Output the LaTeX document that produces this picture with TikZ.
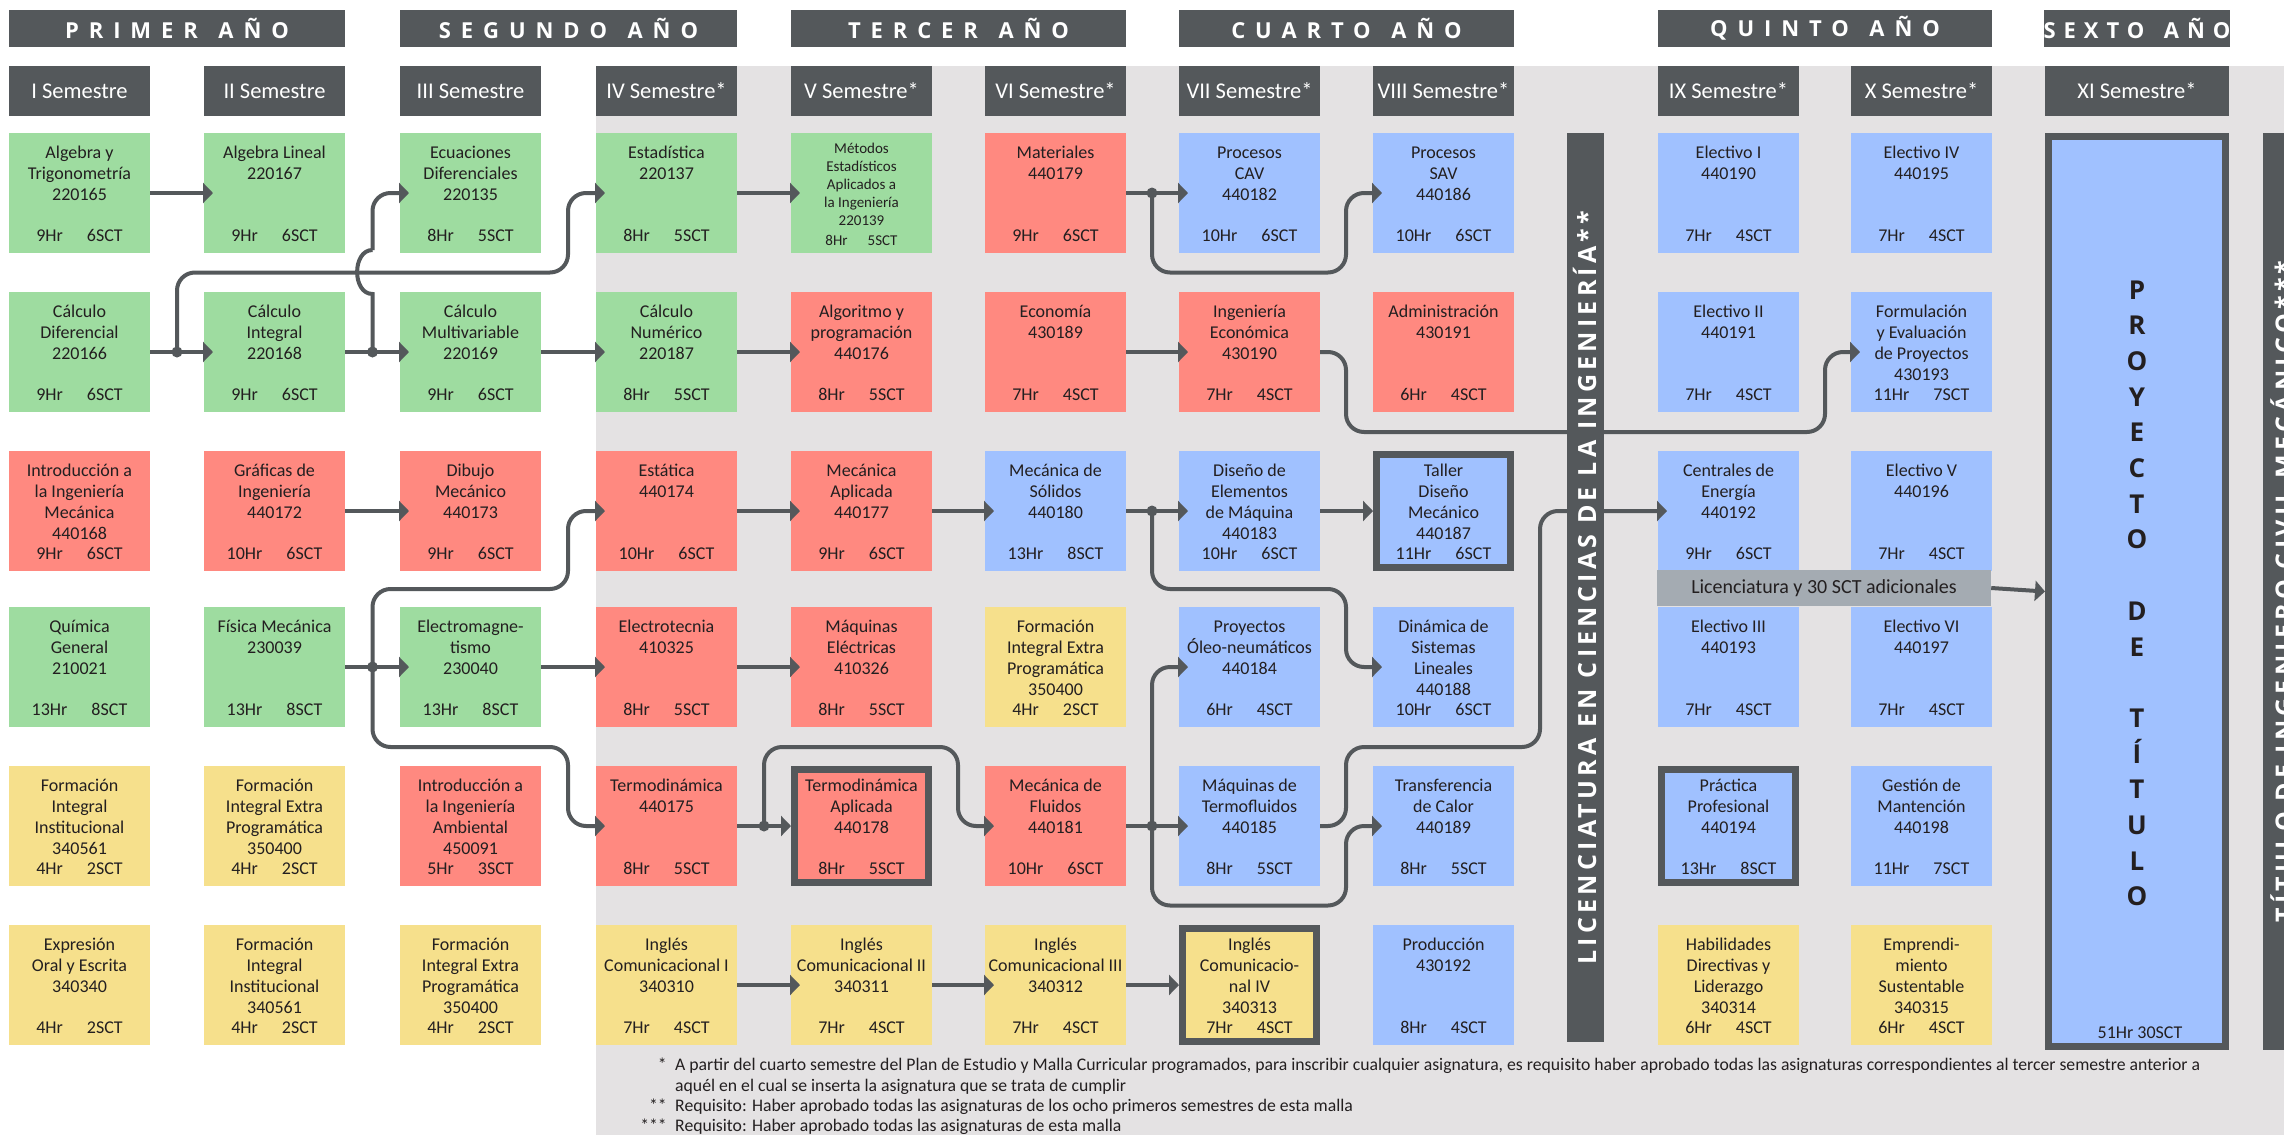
\documentclass[tikz,border=0pt]{standalone}
\usepackage{fontspec}
\setmainfont{Carlito}
\newfontfamily\yrfont{Open Sans}[LetterSpace=45]
\newfontfamily\barfont{Open Sans}[LetterSpace=17]
\newfontfamily\pfont{Open Sans}
\usetikzlibrary{arrows.meta}
\definecolor{cgreen}{RGB}{158,220,160}
\definecolor{cred}{RGB}{255,137,128}
\definecolor{cblue}{RGB}{160,193,255}
\definecolor{cyel}{RGB}{246,224,140}
\definecolor{cdark}{RGB}{84,88,91}
\definecolor{cbg}{RGB}{228,226,227}
\definecolor{clab}{RGB}{164,171,178}
\definecolor{ctext}{RGB}{35,31,32}
\def\colA{9}\def\colB{204}\def\colC{400}\def\colD{596}\def\colE{791}
\def\colF{985}\def\colG{1179}\def\colH{1373}\def\colI{1658}\def\colJ{1851}
\def\rowA{133}\def\rowB{292}\def\rowC{451}\def\rowD{607}\def\rowE{766}\def\rowF{925}
% #1 name, #2 x, #3 top, #4 colour, #5 text, #6 hr, #7 sct, #8 style
\newcommand\mycourse[8]{%
  \node[#8, fill=#4] (#1) at ({#2+70.5},{#3+60}) {};
  \node[btext] (#1t) at ({#2+70.5},{#3+11}) {\rule{0pt}{14pt}#5};
  \node[hrtext] (#1h) at ({#2+70.5},{#3+108}) {#6Hr\hspace{24pt}#7SCT};
}
\begin{document}
\begin{tikzpicture}[x=1pt,y=-1pt,
  box/.style={rectangle, minimum width=141pt, minimum height=120pt, inner sep=0pt, outer sep=0pt},
  bbox/.style={rectangle, draw=cdark, line width=7pt, minimum width=134pt, minimum height=113pt, inner sep=0pt, outer sep=3.5pt},
  btext/.style={align=center, font=\fontsize{18}{21}\selectfont, text=ctext, inner sep=0pt, anchor=north},
  hrtext/.style={font=\fontsize{18}{21}\selectfont, text=ctext, inner sep=0pt, anchor=base},
  semhdr/.style={fill=cdark, text=white, minimum width=141pt, minimum height=50pt, inner sep=0pt, font=\fontsize{22.5}{26}\selectfont},
  yrhdr/.style={fill=cdark, text=white, minimum height=37pt, inner sep=0pt, font=\yrfont\bfseries\fontsize{22}{24}\selectfont},
  bartext/.style={rotate=90, text=white, inner sep=0pt, font=\barfont\bfseries\fontsize{25}{27}\selectfont},
  conn/.style={draw=cdark, line width=4pt, -{Triangle[width=20pt,length=10pt]}, shorten >=-9pt, rounded corners=18pt},
  connb/.style={conn, shorten >=0pt},
  cline/.style={draw=cdark, line width=4pt},
  dot/.style={circle, fill=cdark, minimum size=11pt, inner sep=0pt},
  foot/.style={font=\fontsize{17.7}{20}\selectfont, text=ctext, inner sep=0pt, anchor=base west},
  footst/.style={font=\fontsize{17.7}{20}\selectfont, text=ctext, inner sep=0pt, anchor=base east},
  plet/.style={font=\pfont\bfseries\fontsize{26}{30}\selectfont, text=ctext, inner sep=0pt, anchor=base}
]
\useasboundingbox (0,0) rectangle (2284,1135);
\fill[white] (0,0) rectangle (2284,1135);
\fill[cbg] (596,66) rectangle (2284,1135);

% year headers
\node[yrhdr, minimum width=336pt] (yr1) at (177,28.5) {PRIMER\hspace{5pt} AÑO};
\node[yrhdr, minimum width=337pt] (yr2) at (568.5,28.5) {SEGUNDO\hspace{5pt} AÑO};
\node[yrhdr, minimum width=335pt] (yr3) at (958.5,28.5) {TERCER\hspace{5pt} AÑO};
\node[yrhdr, minimum width=335pt] (yr4) at (1346.5,28.5) {CUARTO\hspace{5pt} AÑO};
\node[yrhdr, minimum width=334pt] (yr5) at (1825,28.5) {QUINTO\hspace{5pt} AÑO};
\node[yrhdr, minimum width=184pt] (yr6) at (2137,28.5) {\addfontfeature{LetterSpace=36}SEXTO\hspace{6pt} AÑO};

% semester headers
\node[semhdr] (s1) at ({\colA+70.5},91) {I Semestre};
\node[semhdr] (s2) at ({\colB+70.5},91) {II Semestre};
\node[semhdr] (s3) at ({\colC+70.5},91) {III Semestre};
\node[semhdr] (s4) at ({\colD+70.5},91) {IV Semestre*};
\node[semhdr] (s5) at ({\colE+70.5},91) {V Semestre*};
\node[semhdr] (s6) at ({\colF+70.5},91) {VI Semestre*};
\node[semhdr] (s7) at ({\colG+70.5},91) {VII Semestre*};
\node[semhdr] (s8) at ({\colH+70.5},91) {VIII Semestre*};
\node[semhdr] (s9) at ({\colI+70.5},91) {IX Semestre*};
\node[semhdr] (s10) at ({\colJ+70.5},91) {X Semestre*};
\node[semhdr, minimum width=184pt] (s11) at (2137,91) {XI Semestre*};

% column I
\mycourse{A1}{\colA}{\rowA}{cgreen}{Algebra y\\Trigonometría\\220165}{9}{6}{box}
\mycourse{A2}{\colA}{\rowB}{cgreen}{Cálculo\\Diferencial\\220166}{9}{6}{box}
\mycourse{A3}{\colA}{\rowC}{cred}{Introducción a\\la Ingeniería\\Mecánica\\440168}{9}{6}{box}
\mycourse{A4}{\colA}{\rowD}{cgreen}{Química\\General\\210021}{13}{8}{box}
\mycourse{A5}{\colA}{\rowE}{cyel}{Formación\\Integral\\Institucional\\340561}{4}{2}{box}
\mycourse{A6}{\colA}{\rowF}{cyel}{Expresión\\Oral y Escrita\\340340}{4}{2}{box}
% column II
\mycourse{B1}{\colB}{\rowA}{cgreen}{Algebra Lineal\\220167}{9}{6}{box}
\mycourse{B2}{\colB}{\rowB}{cgreen}{Cálculo\\Integral\\220168}{9}{6}{box}
\mycourse{B3}{\colB}{\rowC}{cred}{Gráficas de\\Ingeniería\\440172}{10}{6}{box}
\mycourse{B4}{\colB}{\rowD}{cgreen}{Física Mecánica\\230039}{13}{8}{box}
\mycourse{B5}{\colB}{\rowE}{cyel}{Formación\\Integral Extra\\Programática\\350400}{4}{2}{box}
\mycourse{B6}{\colB}{\rowF}{cyel}{Formación\\Integral\\Institucional\\340561}{4}{2}{box}
% column III
\mycourse{C1}{\colC}{\rowA}{cgreen}{Ecuaciones\\Diferenciales\\220135}{8}{5}{box}
\mycourse{C2}{\colC}{\rowB}{cgreen}{Cálculo\\Multivariable\\220169}{9}{6}{box}
\mycourse{C3}{\colC}{\rowC}{cred}{Dibujo\\Mecánico\\440173}{9}{6}{box}
\mycourse{C4}{\colC}{\rowD}{cgreen}{Electromagne-\\tismo\\230040}{13}{8}{box}
\mycourse{C5}{\colC}{\rowE}{cred}{Introducción a\\la Ingeniería\\Ambiental\\450091}{5}{3}{box}
\mycourse{C6}{\colC}{\rowF}{cyel}{Formación\\Integral Extra\\Programática\\350400}{4}{2}{box}
% column IV
\mycourse{D1}{\colD}{\rowA}{cgreen}{Estadística\\220137}{8}{5}{box}
\mycourse{D2}{\colD}{\rowB}{cgreen}{Cálculo\\Numérico\\220187}{8}{5}{box}
\mycourse{D3}{\colD}{\rowC}{cred}{Estática\\440174}{10}{6}{box}
\mycourse{D4}{\colD}{\rowD}{cred}{Electrotecnia\\410325}{8}{5}{box}
\mycourse{D5}{\colD}{\rowE}{cred}{Termodinámica\\440175}{8}{5}{box}
\mycourse{D6}{\colD}{\rowF}{cyel}{Inglés\\Comunicacional I\\340310}{7}{4}{box}
% column V
\node[box, fill=cgreen] (E1) at ({\colE+70.5},{\rowA+60}) {};
\node[align=center, font=\fontsize{15}{18}\selectfont, text=ctext, inner sep=0pt, anchor=north] (E1t) at ({\colE+70.5},{\rowA+8}) {\rule{0pt}{12pt}Métodos\\Estadísticos\\Aplicados a\\la Ingeniería\\220139};
\node[font=\fontsize{15}{18}\selectfont, text=ctext, inner sep=0pt, anchor=base] (E1h) at ({\colE+70.5},{\rowA+112}) {8Hr\hspace{20pt}5SCT};
\mycourse{E2}{\colE}{\rowB}{cred}{Algoritmo y\\programación\\440176}{8}{5}{box}
\mycourse{E3}{\colE}{\rowC}{cred}{Mecánica\\Aplicada\\440177}{9}{6}{box}
\mycourse{E4}{\colE}{\rowD}{cred}{Máquinas\\Eléctricas\\410326}{8}{5}{box}
\mycourse{E5}{\colE}{\rowE}{cred}{Termodinámica\\Aplicada\\440178}{8}{5}{bbox}
\mycourse{E6}{\colE}{\rowF}{cyel}{Inglés\\Comunicacional II\\340311}{7}{4}{box}
% column VI
\mycourse{F1}{\colF}{\rowA}{cred}{Materiales\\440179}{9}{6}{box}
\mycourse{F2}{\colF}{\rowB}{cred}{Economía\\430189}{7}{4}{box}
\mycourse{F3}{\colF}{\rowC}{cblue}{Mecánica de\\Sólidos\\440180}{13}{8}{box}
\mycourse{F4}{\colF}{\rowD}{cyel}{Formación\\Integral Extra\\Programática\\350400}{4}{2}{box}
\mycourse{F5}{\colF}{\rowE}{cred}{Mecánica de\\Fluidos\\440181}{10}{6}{box}
\mycourse{F6}{\colF}{\rowF}{cyel}{Inglés\\Comunicacional III\\340312}{7}{4}{box}
% column VII
\mycourse{G1}{\colG}{\rowA}{cblue}{Procesos\\CAV\\440182}{10}{6}{box}
\mycourse{G2}{\colG}{\rowB}{cred}{Ingeniería\\Económica\\430190}{7}{4}{box}
\mycourse{G3}{\colG}{\rowC}{cblue}{Diseño de\\Elementos\\de Máquina\\440183}{10}{6}{box}
\mycourse{G4}{\colG}{\rowD}{cblue}{Proyectos\\Óleo-neumáticos\\440184}{6}{4}{box}
\mycourse{G5}{\colG}{\rowE}{cblue}{Máquinas de\\Termofluidos\\440185}{8}{5}{box}
\mycourse{G6}{\colG}{\rowF}{cyel}{Inglés\\Comunicacio-\\nal IV\\340313}{7}{4}{bbox}
% column VIII
\mycourse{H1}{\colH}{\rowA}{cblue}{Procesos\\SAV\\440186}{10}{6}{box}
\mycourse{H2}{\colH}{\rowB}{cred}{Administración\\430191}{6}{4}{box}
\mycourse{H3}{\colH}{\rowC}{cblue}{Taller\\Diseño\\Mecánico\\440187}{11}{6}{bbox}
\mycourse{H4}{\colH}{\rowD}{cblue}{Dinámica de\\Sistemas\\Lineales\\440188}{10}{6}{box}
\mycourse{H5}{\colH}{\rowE}{cblue}{Transferencia\\de Calor\\440189}{8}{5}{box}
\mycourse{H6}{\colH}{\rowF}{cblue}{Producción\\430192}{8}{4}{box}
% column IX
\mycourse{I1}{\colI}{\rowA}{cblue}{Electivo I\\440190}{7}{4}{box}
\mycourse{I2}{\colI}{\rowB}{cblue}{Electivo II\\440191}{7}{4}{box}
\mycourse{I3}{\colI}{\rowC}{cblue}{Centrales de\\Energía\\440192}{9}{6}{box}
\mycourse{I4}{\colI}{\rowD}{cblue}{Electivo III\\440193}{7}{4}{box}
\mycourse{I5}{\colI}{\rowE}{cblue}{Práctica\\Profesional\\440194}{13}{8}{bbox}
\mycourse{I6}{\colI}{\rowF}{cyel}{Habilidades\\Directivas y\\Liderazgo\\340314}{6}{4}{box}
% column X
\mycourse{J1}{\colJ}{\rowA}{cblue}{Electivo IV\\440195}{7}{4}{box}
\mycourse{J2}{\colJ}{\rowB}{cblue}{Formulación\\y Evaluación\\de Proyectos\\430193}{11}{7}{box}
\mycourse{J3}{\colJ}{\rowC}{cblue}{Electivo V\\440196}{7}{4}{box}
\mycourse{J4}{\colJ}{\rowD}{cblue}{Electivo VI\\440197}{7}{4}{box}
\mycourse{J5}{\colJ}{\rowE}{cblue}{Gestión de\\Mantención\\440198}{11}{7}{box}
\mycourse{J6}{\colJ}{\rowF}{cyel}{Emprendi-\\miento\\Sustentable\\340315}{6}{4}{box}

% straight connectors
\draw[conn] (A1.east) -- (B1.west);
\draw[conn] (A2.east) -- (B2.west);
\draw[conn] (B2.east) -- (C2.west);
\draw[conn] (C2.east) -- (D2.west);
\draw[conn] (D1.east) -- (E1.west);
\draw[conn] (D2.east) -- (E2.west);
\draw[conn] (F1.east) -- (G1.west);
\draw[conn] (F2.east) -- (G2.west);
\draw[conn] (B3.east) -- (C3.west);
\draw[conn] (D3.east) -- (E3.west);
\draw[conn] (E3.east) -- (F3.west);
\draw[conn] (F3.east) -- (G3.west);
\draw[connb] (G3.east) -- (H3.west);
\draw[conn] (B4.east) -- (C4.west);
\draw[conn] (C4.east) -- (D4.west);
\draw[conn] (D4.east) -- (E4.west);
\draw[connb] (D5.east) -- (E5.west);
\draw[conn] (F5.east) -- (G5.west);
\draw[conn] (D6.east) -- (E6.west);
\draw[conn] (E6.east) -- (F6.west);
\draw[connb] (F6.east) -- (G6.west);

% junction dots
\node[dot] (dA) at (177,352) {};
\node[dot] (dB) at (372.5,352) {};
\node[dot] (dC) at (1152,193) {};
\node[dot] (dD) at (1152,511) {};
\node[dot] (dE) at (372.5,667) {};
\node[dot] (dF) at (764,826) {};
\node[dot] (dG) at (1152,826) {};

% branch connectors
\draw[conn] (dA.center) -- (177,272.5) -- (568,272.5) -- (568,193) -- (D1.west);
\coordinate (hop) at (372.5,250);
\draw[cline] (dB.center) -- (372.5,294) .. controls (352,294) and (352,250) .. (hop);
\draw[conn] (hop) -- (372.5,193) -- (C1.west);
\draw[conn] (dC.center) -- (1152,272.5) -- (1346,272.5) -- (1346,193) -- (H1.west);
\draw[conn] (G2.east) -- (1346,352) -- (1346,432) -- (1825,432) -- (1825,352) -- (J2.west);
\draw[conn] (dD.center) -- (1152,589) -- (1346,589) -- (1346,667) -- (H4.west);
\draw[conn] (dE.center) -- (372.5,589) -- (568,589) -- (568,511) -- (D3.west);
\draw[conn] (dE.center) -- (372.5,747) -- (568,747) -- (568,826) -- (D5.west);
\draw[conn] (dF.center) -- (764,747) -- (958,747) -- (958,826) -- (F5.west);
\draw[conn] (dG.center) -- (1152,667) -- (G4.west);
\draw[conn] (dG.center) -- (1152,905.5) -- (1346,905.5) -- (1346,826) -- (H5.west);
\draw[conn] (G5.east) -- (1346,826) -- (1346,747) -- (1540,747) -- (1540,511) -- (I3.west);

% vertical bars
\node[fill=cdark, minimum width=37pt, minimum height=909pt, inner sep=0pt] (licbar) at (1585.5,587.5) {};
\node[bartext] (lictext) at (1584.5,587.5) {LICENCIATURA EN CIENCIAS DE LA INGENIERÍA**};
\node[fill=cdark, minimum width=40pt, minimum height=917pt, inner sep=0pt] (titbar) at (2283,591.5) {};
\node[bartext] (tittext) at (2282,591.5) {TÍTULO DE INGENIERO CIVIL MECÁNICO***};

% proyecto de titulo
\node[rectangle, draw=cdark, line width=7pt, fill=cblue, minimum width=177pt, minimum height=910pt, inner sep=0pt, outer sep=3.5pt] (proy) at (2137,591.5) {};
\foreach \l [count=\i from 0] in {P,R,O,Y,E,C,T,O,,D,E,,T,Í,T,U,L,O}
  \node[plet] (pl\i) at (2137,{299+35.7*\i}) {\l};
\node[hrtext] (proyh) at (2140,1038) {51Hr 30SCT};

% licenciatura label
\node[fill=clab, minimum width=334pt, minimum height=36pt, inner sep=0pt, text=ctext, font=\fontsize{20}{24}\selectfont] (lic30) at (1824,588) {Licenciatura y 30 SCT adicionales};
\draw[connb] (lic30.east) -- (proy.west);

% footnotes
\node[footst] (f1s) at (667,1070) {*};
\node[foot] (f1) at (675,1070) {A partir del cuarto semestre del Plan de Estudio y Malla Curricular programados, para inscribir cualquier asignatura, es requisito haber aprobado todas las asignaturas correspondientes al tercer semestre anterior a};
\node[foot] (f1b) at (675,1091) {aquél en el cual se inserta la asignatura que se trata de cumplir};
\node[footst] (f2s) at (667,1111) {**};
\node[foot] (f2) at (675,1111) {Requisito: Haber aprobado todas las asignaturas de los ocho primeros semestres de esta malla};
\node[footst] (f3s) at (667,1131) {***};
\node[foot] (f3) at (675,1131) {Requisito: Haber aprobado todas las asignaturas de esta malla};
\end{tikzpicture}
\end{document}
